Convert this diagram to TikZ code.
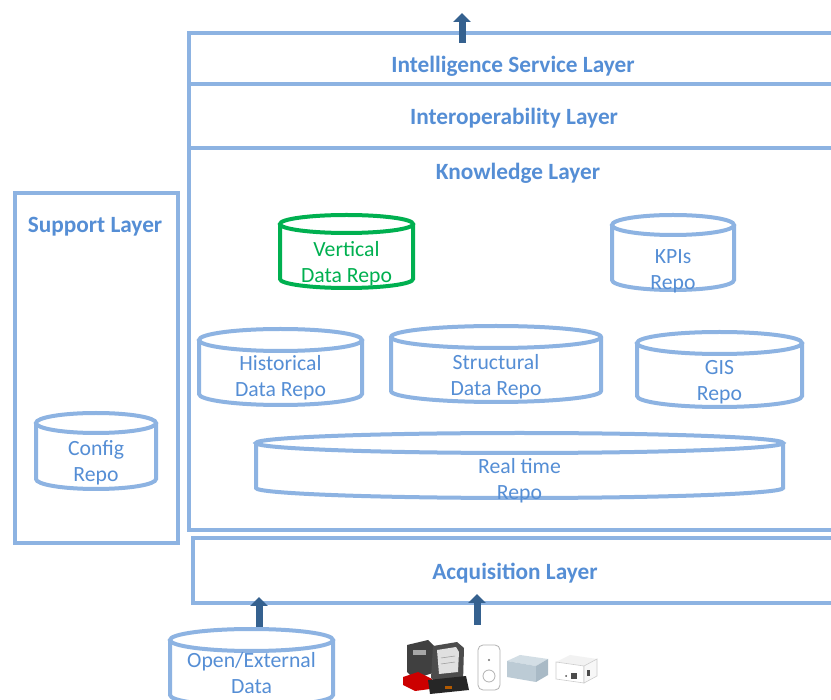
\documentclass[tikz,border=0pt]{standalone}
\usepackage{fontspec}
\setmainfont{Carlito}
\usetikzlibrary{arrows.meta}

\definecolor{framecol}{HTML}{8DB3E2}
\definecolor{labelcol}{HTML}{558ED5}
\definecolor{arrowcol}{HTML}{35618F}
\definecolor{vgreen}{HTML}{00B050}
\definecolor{boxtop}{HTML}{D3DEE5}
\definecolor{boxfront}{HTML}{BCCBD5}
\definecolor{boxside}{HTML}{A9BAC6}

% Drum-shaped repository: #1 name, #2 left x, #3 right x, #4 top-ellipse y,
% #5 bottom y, #6 ellipse half height, #7 colour, #8 text centre y, #9 text
\newcommand\repodrum[9]{%
  \draw[repoline, draw=#7] (#2,#4) -- (#2,#5)
    arc[start angle=180, end angle=0, x radius={(#3-#2)/2}, y radius=#6] -- (#3,#4);
  \draw[repoline, draw=#7] ({(#2+#3)/2},#4) ellipse[x radius={(#3-#2)/2}, y radius=#6];
  \node[repotext, text=#7] (#1) at ({(#2+#3)/2},#8) {#9};
}

\begin{document}
\begin{tikzpicture}[x=1pt, y=-1pt,
  layerline/.style={draw=framecol, line width=4pt},
  repoline/.style={line width=4pt},
  layertext/.style={text=labelcol, font=\fontsize{23.3}{28}\selectfont\bfseries, inner sep=0pt},
  repotext/.style={align=center, font=\fontsize{21.7}{26}\selectfont, inner sep=0pt},
  uparrow/.style={draw=arrowcol, line width=7pt, -{Triangle[width=17pt, length=9pt]}},
]
\useasboundingbox (0,0) rectangle (831,700);
\fill[white] (0,0) rectangle (831,700);
\clip (0,0) rectangle (831,700);

% ---- main stack of layers (open to the right) ----
\draw[layerline] (189,33) rectangle (850,530);
\draw[layerline] (189,84) -- (850,84);
\draw[layerline] (189,148) -- (850,148);
\node[layertext] (intel) at (513,66) {Intelligence Service Layer};
\node[layertext] (interop) at (514,118) {Interoperability Layer};
\node[layertext] (know) at (518,173) {Knowledge Layer};

% ---- support layer ----
\draw[layerline] (15,193) rectangle (178,543);
\node[layertext] (support) at (95,227) {Support Layer};

% ---- acquisition layer ----
\draw[layerline] (193,538) rectangle (850,603);
\node[layertext] (acq) at (515,573) {Acquisition Layer};

% ---- repositories ----
\repodrum{vertical}{280}{413}{224}{279}{9}{vgreen}{264}{Vertical\\Data Repo}
\repodrum{kpis}{612}{734}{225}{280}{10}{framecol}{271}{\textcolor{labelcol}{KPIs}\\\textcolor{labelcol}{Repo}}
\repodrum{historical}{199}{362}{340}{394}{11}{framecol}{378}{\textcolor{labelcol}{Historical}\\\textcolor{labelcol}{Data Repo}}
\repodrum{structural}{391}{601}{337}{391}{11}{framecol}{377}{\textcolor{labelcol}{Structural}\\\textcolor{labelcol}{Data Repo}}
\repodrum{gis}{637}{802}{343}{396}{11}{framecol}{382}{\textcolor{labelcol}{GIS}\\\textcolor{labelcol}{Repo}}
\repodrum{realtime}{256}{783}{443}{488}{10}{framecol}{481}{\textcolor{labelcol}{Real time}\\\textcolor{labelcol}{Repo}}
\repodrum{config}{36}{156}{423}{479}{10}{framecol}{463}{\textcolor{labelcol}{Config}\\\textcolor{labelcol}{Repo}}
\repodrum{open}{170}{333}{640}{695}{11}{framecol}{673}{\textcolor{labelcol}{Open/External}\\\textcolor{labelcol}{Data}}

% ---- field devices ----
\begin{scope}
  % meter at the back
  \fill[black!75] (407,645) -- (428,640) -- (436,648) -- (436,672) -- (414,679) -- (407,672) -- cycle;
  \fill[black!35] (413,650) rectangle (426,655);
  % red clamp
  \fill[red!80!black] (403,677) -- (418,672) -- (432,679) -- (430,689) -- (415,691) -- (403,685) -- cycle;
  % handheld display unit with its cradle
  \fill[black!70] (433,646) -- (457,642) -- (464,648) -- (463,682) -- (437,684) -- (431,678) -- cycle;
  \fill[black!12] (437,650) -- (456,647) -- (459,652) -- (458,672) -- (439,674) -- cycle;
  \draw[black!40, line width=0.5pt] (441,658) -- (455,656) (441,664) -- (455,662);
  \fill[black!85] (428,680) -- (466,676) -- (469,690) -- (430,694) -- cycle;
  \fill[orange!70!black] (445,686) rectangle (452,689);
  % smart plug
  \draw[black!30, fill=white, line width=0.8pt, rounded corners=5pt] (478,645) rectangle (500,690);
  \draw[black!30, line width=0.8pt] (489,676) circle (6);
  \fill[black!55] (489,660) circle (1.2);
  % gateway box
  \fill[boxtop] (507,661) -- (520,655) -- (548,659) -- (536,666) -- cycle;
  \fill[boxfront] (507,661) -- (536,666) -- (536,682) -- (507,677) -- cycle;
  \fill[boxside] (536,666) -- (548,659) -- (548,675) -- (536,682) -- cycle;
  % small router
  \fill[black!5] (556,662) -- (570,655) -- (597,659) -- (584,666) -- cycle;
  \draw[black!20, line width=0.6pt, fill=white] (556,662) -- (584,666) -- (584,683) -- (556,679) -- cycle;
  \draw[black!20, line width=0.6pt, fill=black!3] (584,666) -- (597,659) -- (597,676) -- (584,683) -- cycle;
  \fill[black!70] (571,673) rectangle (577,679);
  \fill[black!70] (587,670) rectangle (590,676);
  \fill[black!70] (566,676) circle (1);
\end{scope}

% ---- data flow arrows ----
\coordinate (intelout) at (462,43);
\coordinate (topend) at (462,13);
\coordinate (openin) at (259,627);
\coordinate (openend) at (259,597);
\coordinate (devin) at (477,625);
\coordinate (devend) at (477,594);
\draw[uparrow] (intelout) -- (topend);
\draw[uparrow] (openin) -- (openend);
\draw[uparrow] (devin) -- (devend);
\end{tikzpicture}
\end{document}
